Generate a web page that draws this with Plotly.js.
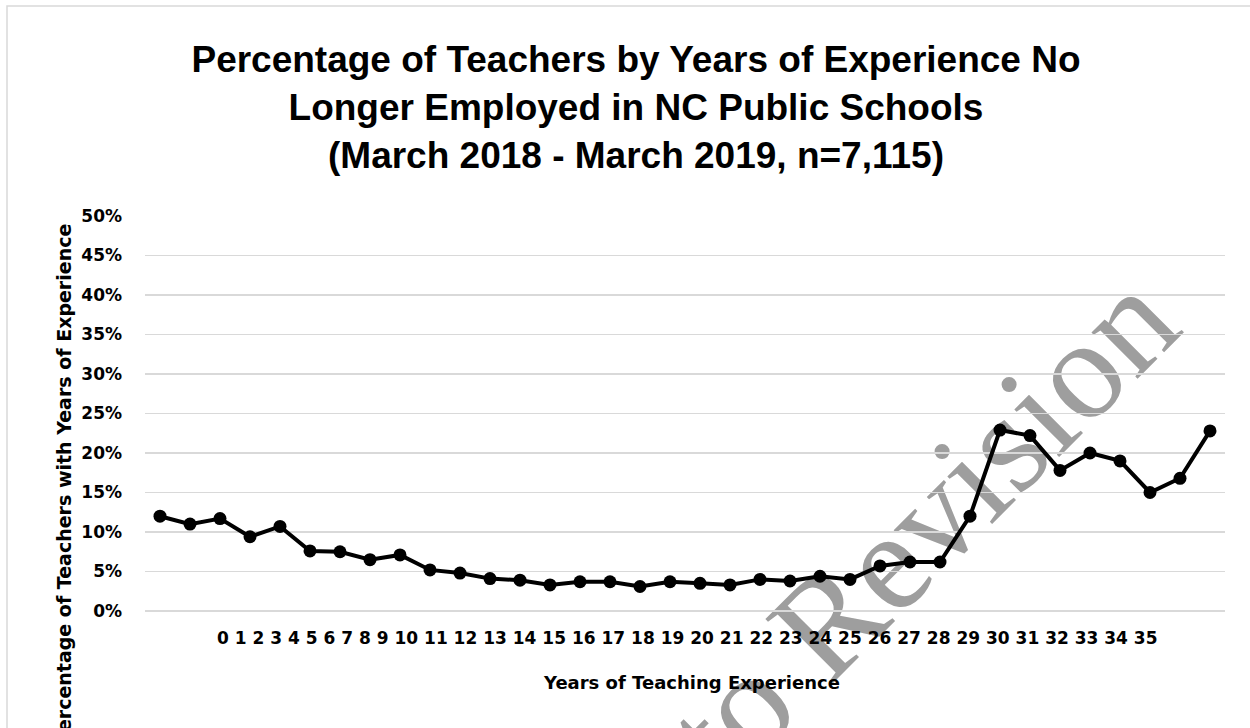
<!DOCTYPE html>
<html>
<head>
<meta charset="utf-8">
<script src="https://cdn.plot.ly/plotly-3.0.1.min.js"></script>
<style>
  html, body { margin: 0; padding: 0; background: #fff; }
  #wrap { position: relative; width: 1250px; height: 728px; overflow: hidden; background: #fff; }
  #watermark {
    position: absolute; left: 0; top: 0;
    font-family: 'Liberation Serif', serif; font-size: 142px; color: #9e9e9e;
    white-space: nowrap; line-height: 1;
    transform-origin: 0 0;
    z-index: 0;
  }
  #chart { position: absolute; left: 0; top: 0; width: 1250px; height: 728px; z-index: 1; }
</style>
</head>
<body>
<div id="wrap">
  <div id="watermark"></div>
  <div id="chart"></div>
</div>
<script>
// Years of teaching experience (category index) and percentage no longer employed
const years = [0, 1, 2, 3, 4, 5, 6, 7, 8, 9, 10, 11, 12, 13, 14, 15, 16, 17,
               18, 19, 20, 21, 22, 23, 24, 25, 26, 27, 28, 29, 30, 31, 32, 33, 34, 35];
const pctNoLongerEmployed = [12.0, 11.0, 11.7, 9.4, 10.7, 7.6, 7.5, 6.5, 7.1, 5.2, 4.8, 4.1,
                             3.9, 3.3, 3.7, 3.7, 3.1, 3.7, 3.5, 3.3, 4.0, 3.8, 4.4, 4.0,
                             5.7, 6.2, 6.2, 12.0, 22.9, 22.2, 17.8, 20.0, 19.0, 15.0, 16.8, 22.8];
const yTickVals = [0, 5, 10, 15, 20, 25, 30, 35, 40, 45, 50];
const yTickText = ['0%', '5%', '10%', '15%', '20%', '25%', '30%', '35%', '40%', '45%', '50%'];
const xTickLabels = ['0','1','2','3','4','5','6','7','8','9','10','11','12','13','14','15','16','17',
                     '18','19','20','21','22','23','24','25','26','27','28','29','30','31','32','33','34','35'];

const titleText = 'Percentage of Teachers by Years of Experience No<br>Longer Employed in NC Public Schools<br>(March 2018 - March 2019, n=7,115)';
const xTitleText = 'Years of Teaching Experience';
const yTitleText = 'Percentage of Teachers with Years of Experience';
const watermarkText = 'Subject to Revision';

const W = 1250, H = 728;
const L = 145, R = 25, T = 216, B = 117;
const pw = W - L - R, ph = H - T - B;
const px = x => (x - L) / pw;
const py = y => (H - B - y) / ph;

// watermark behind the chart (real text)
(function () {
  const wm = document.getElementById('watermark');
  wm.textContent = watermarkText;
  const w = wm.offsetWidth, h = wm.offsetHeight;
  const cx = 758, cy = 690;
  wm.style.left = (cx - w / 2) + 'px';
  wm.style.top = (cy - h / 2) + 'px';
  wm.style.transformOrigin = '50% 50%';
  wm.style.transform = 'rotate(-45deg)';
})();

const trace = {
  x: years,
  y: pctNoLongerEmployed,
  type: 'scatter',
  mode: 'lines+markers',
  line: { color: '#000000', width: 4 },
  marker: { color: '#000000', size: 13 },
  hoverinfo: 'x+y',
  showlegend: false
};

const tickFont = { family: 'DejaVu Sans', size: 17, color: '#000000', weight: 'bold' };

const layout = {
  width: W, height: H,
  paper_bgcolor: 'rgba(0,0,0,0)',
  plot_bgcolor: 'rgba(0,0,0,0)',
  margin: { l: L, r: R, t: T, b: B, pad: 0 },
  title: {
    text: '<b>' + titleText + '</b>',
    font: { family: 'Liberation Sans', size: 37, color: '#000000' },
    x: 636 / W, xref: 'container', xanchor: 'center',
    y: 1 - 72 / H, yref: 'container', yanchor: 'top'
  },
  xaxis: {
    type: 'linear',
    range: [-0.5, 35.5],
    showgrid: false,
    zeroline: false,
    showline: false,
    showticklabels: false,
    ticks: ''
  },
  yaxis: {
    range: [0, 50],
    tickmode: 'array',
    tickvals: yTickVals,
    ticktext: yTickText,
    tickfont: tickFont,
    showgrid: true,
    gridcolor: '#d9d9d9',
    gridwidth: 1.5,
    zeroline: true,
    zerolinecolor: '#d9d9d9',
    zerolinewidth: 1.5,
    showline: false,
    ticks: '',
    ticklabelstandoff: 22
  },
  shapes: [{
    type: 'rect', xref: 'paper', yref: 'paper',
    x0: px(7), x1: px(1262), y0: py(745), y1: py(6),
    line: { color: '#d9d9d9', width: 1.5 },
    fillcolor: 'rgba(0,0,0,0)',
    layer: 'below'
  }],
  annotations: [
    {
      text: xTickLabels.join(' '),
      xref: 'paper', yref: 'paper',
      x: px(687), y: py(638), xanchor: 'center', yanchor: 'middle',
      showarrow: false, font: tickFont
    },
    {
      text: xTitleText,
      xref: 'paper', yref: 'paper',
      x: px(691), y: py(682), xanchor: 'center', yanchor: 'middle',
      showarrow: false, font: { family: 'DejaVu Sans', size: 18, color: '#000000', weight: 'bold' }
    },
    {
      text: yTitleText,
      xref: 'paper', yref: 'paper',
      x: px(64), y: py(485), xanchor: 'center', yanchor: 'middle',
      textangle: -90,
      showarrow: false, font: { family: 'DejaVu Sans', size: 19, color: '#000000', weight: 'bold' }
    }
  ]
};

Plotly.newPlot('chart', [trace], layout, { displayModeBar: false, staticPlot: true });
</script>
</body>
</html>
